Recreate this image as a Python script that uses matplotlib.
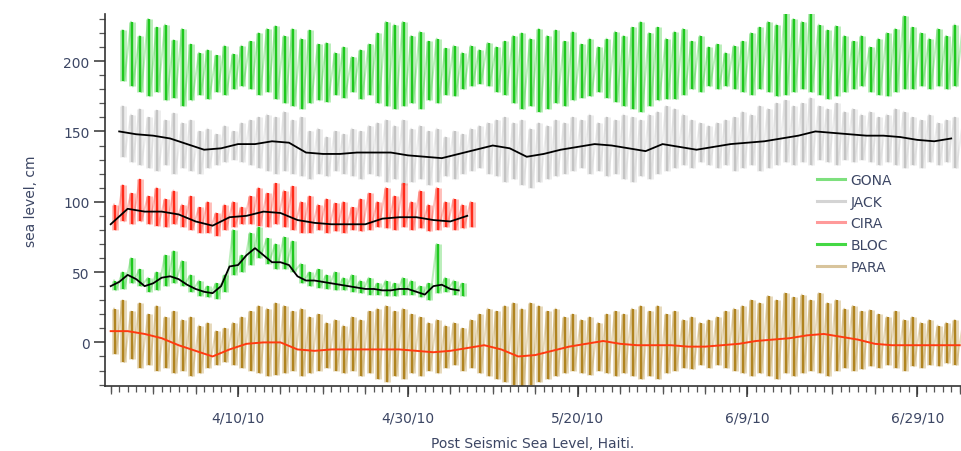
import datetime as dt
import numpy as np
import matplotlib
matplotlib.use("Agg")
import matplotlib.pyplot as plt
import matplotlib.dates as mdates
from matplotlib.lines import Line2D
from matplotlib.ticker import MultipleLocator, FuncFormatter

# day 0 = 3/26/10
start = mdates.date2num(dt.datetime(2010, 3, 26))

# GONA, days 1..100 (daily high / low, cm)
gona_hi = [222, 228, 218, 230, 224, 226, 215, 223, 212, 206,
           208, 204, 211, 205, 211, 214, 220, 223, 225, 218,
           223, 216, 222, 212, 213, 206, 210, 203, 208, 212,
           220, 228, 226, 228, 218, 221, 214, 216, 209, 211,
           206, 211, 208, 213, 210, 214, 218, 220, 216, 223,
           218, 222, 214, 221, 212, 216, 210, 216, 221, 218,
           224, 228, 220, 224, 216, 221, 223, 214, 218, 210,
           212, 206, 211, 214, 220, 224, 228, 226, 235, 230,
           228, 235, 226, 222, 225, 218, 214, 218, 210, 216,
           220, 223, 232, 224, 220, 216, 223, 218, 226, 228]
gona_lo = [186, 182, 178, 175, 178, 172, 174, 168, 172, 176,
           173, 178, 176, 180, 182, 180, 176, 178, 173, 170,
           168, 166, 170, 172, 171, 176, 174, 178, 173, 176,
           170, 168, 166, 168, 170, 166, 172, 170, 176, 175,
           180, 182, 184, 182, 178, 176, 170, 166, 168, 164,
           166, 170, 168, 172, 174, 175, 178, 174, 171, 168,
           166, 164, 168, 172, 173, 173, 176, 180, 178, 182,
           180, 182, 180, 178, 176, 180, 178, 175, 176, 178,
           180, 178, 176, 173, 175, 178, 180, 182, 178, 176,
           175, 178, 180, 180, 182, 180, 182, 180, 182, 184]

# JACK, days 1..100
jack_hi = [168, 162, 166, 160, 165, 158, 163, 156, 158, 150,
           152, 148, 154, 150, 156, 158, 160, 162, 160, 164,
           158, 160, 150, 152, 146, 150, 148, 152, 150, 154,
           156, 158, 154, 158, 152, 154, 150, 152, 146, 150,
           148, 152, 154, 156, 158, 160, 156, 158, 152, 156,
           154, 158, 156, 160, 158, 162, 156, 160, 158, 162,
           160, 158, 162, 164, 168, 166, 162, 158, 156, 154,
           156, 158, 160, 164, 162, 168, 166, 170, 172, 168,
           170, 174, 168, 166, 170, 164, 166, 162, 164, 160,
           162, 166, 164, 160, 158, 162, 156, 158, 160, 158]
jack_lo = [132, 128, 126, 124, 122, 126, 120, 124, 122, 120,
           124, 126, 128, 130, 128, 126, 124, 122, 120, 122,
           120, 118, 116, 120, 118, 122, 120, 118, 116, 120,
           118, 114, 116, 112, 114, 116, 112, 114, 118, 116,
           120, 122, 124, 120, 118, 114, 116, 112, 110, 114,
           116, 118, 120, 122, 124, 120, 122, 118, 120, 116,
           114, 118, 116, 120, 122, 124, 126, 124, 128, 126,
           124, 126, 122, 124, 126, 122, 124, 126, 128, 126,
           128, 126, 130, 128, 126, 130, 128, 130, 128, 126,
           128, 126, 124, 126, 124, 128, 126, 128, 124, 126]
# JACK residual, every 2 days from day 1
jack_res = [150, 148, 147, 145, 141, 137, 138, 141, 141, 143,
            142, 135, 134, 134, 135, 135, 135, 133, 132, 131,
            134, 137, 140, 138, 132, 134, 137, 139, 141, 140,
            138, 136, 141, 139, 137, 139, 141, 142, 143, 145,
            147, 150, 149, 148, 147, 147, 146, 144, 143, 145]

# CIRA, days 0..42
cira_hi = [98, 112, 106, 116, 104, 110, 102, 108, 98, 104,
           96, 100, 92, 98, 100, 96, 104, 110, 106, 113,
           108, 111, 100, 104, 98, 102, 99, 100, 96, 102,
           106, 100, 110, 104, 113, 100, 108, 98, 110, 100,
           102, 98, 100]
cira_lo = [80, 86, 84, 86, 84, 83, 82, 84, 82, 80,
           78, 78, 76, 80, 82, 84, 84, 83, 82, 84,
           82, 80, 78, 78, 80, 78, 79, 78, 80, 79,
           80, 82, 81, 80, 82, 80, 81, 79, 80, 82,
           80, 81, 82]
# CIRA residual, every 2 days from day 0
cira_res = [84, 95, 93, 93, 91, 86, 83, 89, 90, 93, 92,
            87, 85, 84, 84, 84, 88, 89, 89, 87, 86, 90]

# BLOC, days 0..41
bloc_hi = [44, 50, 60, 52, 46, 50, 62, 65, 58, 48,
           44, 40, 42, 48, 80, 62, 78, 82, 74, 70,
           75, 72, 56, 50, 52, 48, 50, 46, 48, 44,
           46, 42, 44, 42, 46, 44, 40, 42, 70, 46,
           44, 42]
bloc_lo = [37, 38, 42, 40, 36, 37, 40, 42, 40, 36,
           33, 32, 31, 36, 48, 50, 55, 60, 56, 52,
           52, 50, 42, 40, 39, 38, 37, 37, 36, 35,
           34, 34, 33, 33, 34, 34, 32, 30, 35, 36,
           34, 33]
# BLOC residual, daily from day 0
bloc_res = [40, 43, 48, 45, 40, 42, 46, 47, 45, 41,
            38, 36, 35, 40, 54, 55, 62, 67, 62, 57,
            57, 55, 47, 44, 44, 43, 42, 41, 40, 39,
            38, 38, 37, 37, 38, 38, 36, 34, 40, 41,
            38, 37]

# PARA, days 0..100
para_hi = [24, 30, 22, 28, 20, 26, 18, 22, 16, 18,
           12, 14, 8, 10, 14, 18, 22, 26, 24, 28,
           26, 22, 24, 18, 20, 14, 16, 12, 18, 16,
           22, 24, 26, 22, 24, 20, 18, 14, 16, 12,
           14, 10, 16, 20, 24, 22, 26, 28, 24, 28,
           26, 22, 24, 18, 20, 16, 18, 14, 20, 22,
           20, 24, 26, 22, 26, 20, 22, 16, 18, 14,
           16, 18, 22, 24, 26, 30, 28, 33, 30, 35,
           32, 34, 30, 35, 28, 30, 24, 26, 22, 23,
           20, 18, 22, 16, 18, 14, 16, 12, 14, 16,
           14]
para_lo = [-8, -14, -12, -18, -16, -20, -18, -22, -20, -24,
           -22, -18, -16, -14, -16, -18, -20, -22, -24, -23,
           -22, -20, -24, -22, -20, -18, -20, -22, -20, -24,
           -22, -26, -28, -24, -26, -22, -24, -20, -22, -18,
           -16, -20, -18, -22, -24, -26, -28, -30, -31, -30,
           -28, -26, -24, -22, -20, -22, -23, -20, -22, -24,
           -22, -24, -26, -24, -26, -22, -20, -18, -19, -16,
           -18, -16, -18, -20, -22, -24, -22, -24, -26, -22,
           -24, -22, -20, -22, -24, -20, -18, -20, -19, -17,
           -18, -16, -18, -20, -17, -18, -16, -17, -15, -16,
           -14]
# PARA residual, every 2 days from day 0
para_res = [8, 8, 6, 3, -2, -6, -10, -5, -1, 0, 0,
            -5, -6, -5, -5, -5, -5, -5, -6, -7, -6,
            -4, -2, -5, -10, -9, -6, -3, -1, 1, -1,
            -2, -2, -2, -3, -3, -2, -1, 1, 2, 3,
            5, 6, 4, 2, -1, -2, -2, -2, -2, -2]

names = ["GONA", "JACK", "CIRA", "BLOC", "PARA"]
colors = ["#1ec81e", "#c4c4c4", "#ff2a1a", "#1ec81e", "#b08420"]
leg_colors = ["#7ee07e", "#d4d4d4", "#ff9a9a", "#44d844", "#d8c49c"]
txt = "#3c4664"


def tide(ax, first_day, hi, lo, c):
    # each day shows up as an almost vertical stroke at this scale
    d = start + first_day + np.arange(len(hi)) + 0.5
    t = np.column_stack([d - 0.1, d + 0.1]).ravel()
    v = np.column_stack([hi, lo]).ravel()
    ax.plot(t, v, color=c, lw=1.4, alpha=0.3)
    ax.vlines(d, lo, hi, color=c, lw=5.0, alpha=0.3)
    ax.vlines(d, lo, hi, color=c, lw=1.7)


fig = plt.figure(figsize=(9.61, 4.52), dpi=100)
ax = fig.add_axes([105 / 961, 1 - 387 / 452, 1 - 105 / 961, (387 - 15) / 452])

series = [(1, gona_hi, gona_lo), (1, jack_hi, jack_lo), (0, cira_hi, cira_lo),
          (0, bloc_hi, bloc_lo), (0, para_hi, para_lo)]
for (d0, hi, lo), c in zip(series, colors):
    tide(ax, d0, hi, lo, c)

ax.plot(start + 1 + 2 * np.arange(len(jack_res)), jack_res, color="black", lw=1.3)
ax.plot(start + 2 * np.arange(len(cira_res)), cira_res, color="black", lw=1.3)
ax.plot(start + np.arange(len(bloc_res)), bloc_res, color="black", lw=1.3)
ax.plot(start + 2 * np.arange(len(para_res)), para_res, color="#ff3a10", lw=1.4)

ax.set_xlim(start - 0.67, start + 100.15)
ax.set_ylim(-31, 233.5)

for s in ["top", "right"]:
    ax.spines[s].set_visible(False)
for s in ["left", "bottom"]:
    ax.spines[s].set_color("#333333")
    ax.spines[s].set_linewidth(1.2)

ax.set_xticks(start + 15 + 20 * np.arange(5))
ax.xaxis.set_major_formatter(FuncFormatter(
    lambda v, p: "%d/%d/%d" % (mdates.num2date(v).month, mdates.num2date(v).day,
                               mdates.num2date(v).year % 100)))
ax.xaxis.set_minor_locator(MultipleLocator(1))
ax.yaxis.set_major_locator(MultipleLocator(50))
ax.yaxis.set_minor_locator(MultipleLocator(10))
ax.tick_params(which="major", direction="out", length=8, width=1.1,
               color="#333333", labelcolor=txt, labelsize=10, pad=3)
ax.tick_params(axis="x", which="major", pad=10)
ax.tick_params(which="minor", direction="out", length=4, width=0.9, color="#555555")

# medium ticks every 5 days on the time axis
sec = ax.secondary_xaxis("bottom")
sec.set_xticks(start + 5 * np.arange(-1, 21))
sec.tick_params(direction="out", length=6, width=0.9, color="#555555", labelbottom=False)
sec.spines["bottom"].set_visible(False)

ax.set_xlabel("Post Seismic Sea Level, Haiti.", color=txt, fontsize=10, labelpad=8)
ax.set_ylabel("sea level, cm", color=txt, fontsize=10, labelpad=18)

handles = [Line2D([], [], color=c, lw=2.2) for c in leg_colors]
leg = ax.legend(handles, names, loc="upper left", bbox_to_anchor=(817 / 961, 1 - 174 / 452),
                bbox_transform=fig.transFigure, frameon=False, fontsize=10,
                handlelength=2.0, handletextpad=0.4, labelspacing=0.55,
                borderpad=0, borderaxespad=0)
for t in leg.get_texts():
    t.set_color(txt)

fig.savefig("out.png", dpi=100)
